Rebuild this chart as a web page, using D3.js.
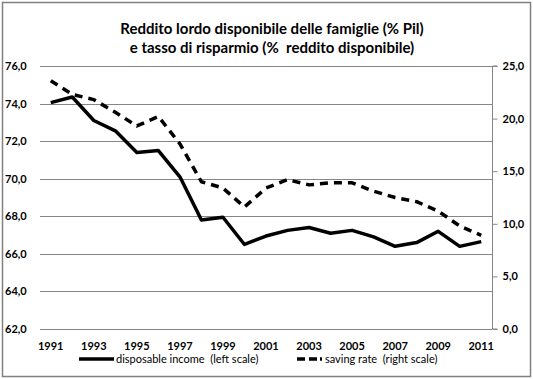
<!DOCTYPE html>
<html><head><meta charset="utf-8">
<script src="https://cdn.jsdelivr.net/npm/d3@7"></script>
<style>
html,body{margin:0;padding:0;background:#fff;}
svg{display:block;}
text{font-family:Lato,"Open Sans",sans-serif;fill:#000;}
</style></head>
<body>
<svg id="chart" width="533" height="379"></svg>
<script>
const titleLines = ["Reddito lordo disponibile delle famiglie (% Pil)", "e tasso di risparmio (%  reddito disponibile)"];
const years = ["1991","1992","1993","1994","1995","1996","1997","1998","1999","2000","2001","2002","2003","2004","2005","2006","2007","2008","2009","2010","2011"];
const yearLabels = ["1991","1993","1995","1997","1999","2001","2003","2005","2007","2009","2011"];
const income = [74.05, 74.35, 73.1, 72.55, 71.4, 71.5, 70.1, 67.8, 67.95, 66.5, 66.95, 67.25, 67.4, 67.1, 67.25, 66.9, 66.4, 66.6, 67.2, 66.4, 66.65];
const saving = [23.6, 22.3, 21.8, 20.6, 19.3, 20.2, 17.6, 14.0, 13.4, 11.6, 13.4, 14.2, 13.7, 13.9, 13.9, 13.1, 12.5, 12.1, 11.2, 9.8, 8.9];
const leftTicks = [62, 64, 66, 68, 70, 72, 74, 76];
const rightTicks = [0, 5, 10, 15, 20, 25];
const seriesNames = ["disposable income  (left scale)", "saving rate  (right scale)"];

const svg = d3.select("#chart");
const L = 40, R = 492, T = 66, B = 329;
const fmt = v => d3.format(".1f")(v).replace(".", ",");

svg.append("rect").attr("x", 2.5).attr("y", 2.5).attr("width", 528).attr("height", 374)
  .attr("fill", "#fff").attr("stroke", "#808080").attr("stroke-width", 1.5);

const x = d3.scalePoint().domain(years).range([L, R]).padding(0.5);
const yL = d3.scaleLinear().domain([62, 76]).range([B, T]);
const yR = d3.scaleLinear().domain([0, 25]).range([B, T]);

// title
svg.append("g").selectAll("text").data(titleLines).join("text")
  .attr("x", 272).attr("y", (d, i) => 34 + i * 19)
  .attr("text-anchor", "middle").attr("font-weight", "bold").attr("font-size", 15)
  .style("white-space", "pre").text(d => d);

// gridlines
svg.append("g").selectAll("line").data(leftTicks).join("line")
  .attr("x1", L).attr("x2", R).attr("y1", d => Math.round(yL(d)) + 0.5).attr("y2", d => Math.round(yL(d)) + 0.5)
  .attr("stroke", "#868686").attr("stroke-width", 1);

// left labels
svg.append("g").selectAll("text").data(leftTicks).join("text")
  .attr("x", 5).attr("y", d => yL(d) + 4)
  .attr("font-size", 11).attr("font-weight", "bold").text(fmt);

// right axis
const rAxis = d3.axisRight(yR).tickValues(rightTicks).tickSize(5).tickFormat(fmt).tickPadding(6);
const rg = svg.append("g").attr("transform", `translate(${R + 0.5},0)`).call(rAxis);
rg.select(".domain").attr("stroke", "#868686").attr("d", `M5,${T}H0V${B}H5`);
rg.selectAll(".tick line").attr("stroke", "#868686");
rg.selectAll(".tick text").attr("font-size", 11).attr("font-weight", "bold")
  .style("font-family", "Lato,'Open Sans',sans-serif").attr("fill", "#000").attr("x", 10);

// x labels
svg.append("g").selectAll("text").data(yearLabels).join("text")
  .attr("x", d => x(d)).attr("y", 350).attr("text-anchor", "middle")
  .attr("font-size", 11).attr("font-weight", "bold").text(d => d);

// lines
const lineL = d3.line().x((d, i) => x(years[i])).y(d => yL(d));
const lineR = d3.line().x((d, i) => x(years[i])).y(d => yR(d));
svg.append("path").datum(income).attr("d", lineL).attr("fill", "none")
  .attr("stroke", "#000").attr("stroke-width", 3.5).attr("stroke-linejoin", "round");
svg.append("path").datum(saving).attr("d", lineR).attr("fill", "none")
  .attr("stroke", "#000").attr("stroke-width", 3.5).attr("stroke-dasharray", "8,6")
  .attr("stroke-linejoin", "round");

// legend
const lg = svg.append("g");
lg.append("line").attr("x1", 79).attr("x2", 114).attr("y1", 359).attr("y2", 359)
  .attr("stroke", "#000").attr("stroke-width", 3.5);
lg.append("text").attr("x", 116).attr("y", 363).attr("font-size", 11)
  .style("white-space", "pre").text(seriesNames[0]);
lg.append("line").attr("x1", 297).attr("x2", 322).attr("y1", 359).attr("y2", 359)
  .attr("stroke", "#000").attr("stroke-width", 3.5).attr("stroke-dasharray", "8,4,8,3,2,40");
lg.append("text").attr("x", 325).attr("y", 363).attr("font-size", 11)
  .style("white-space", "pre").text(seriesNames[1]);
</script>
</body></html>
